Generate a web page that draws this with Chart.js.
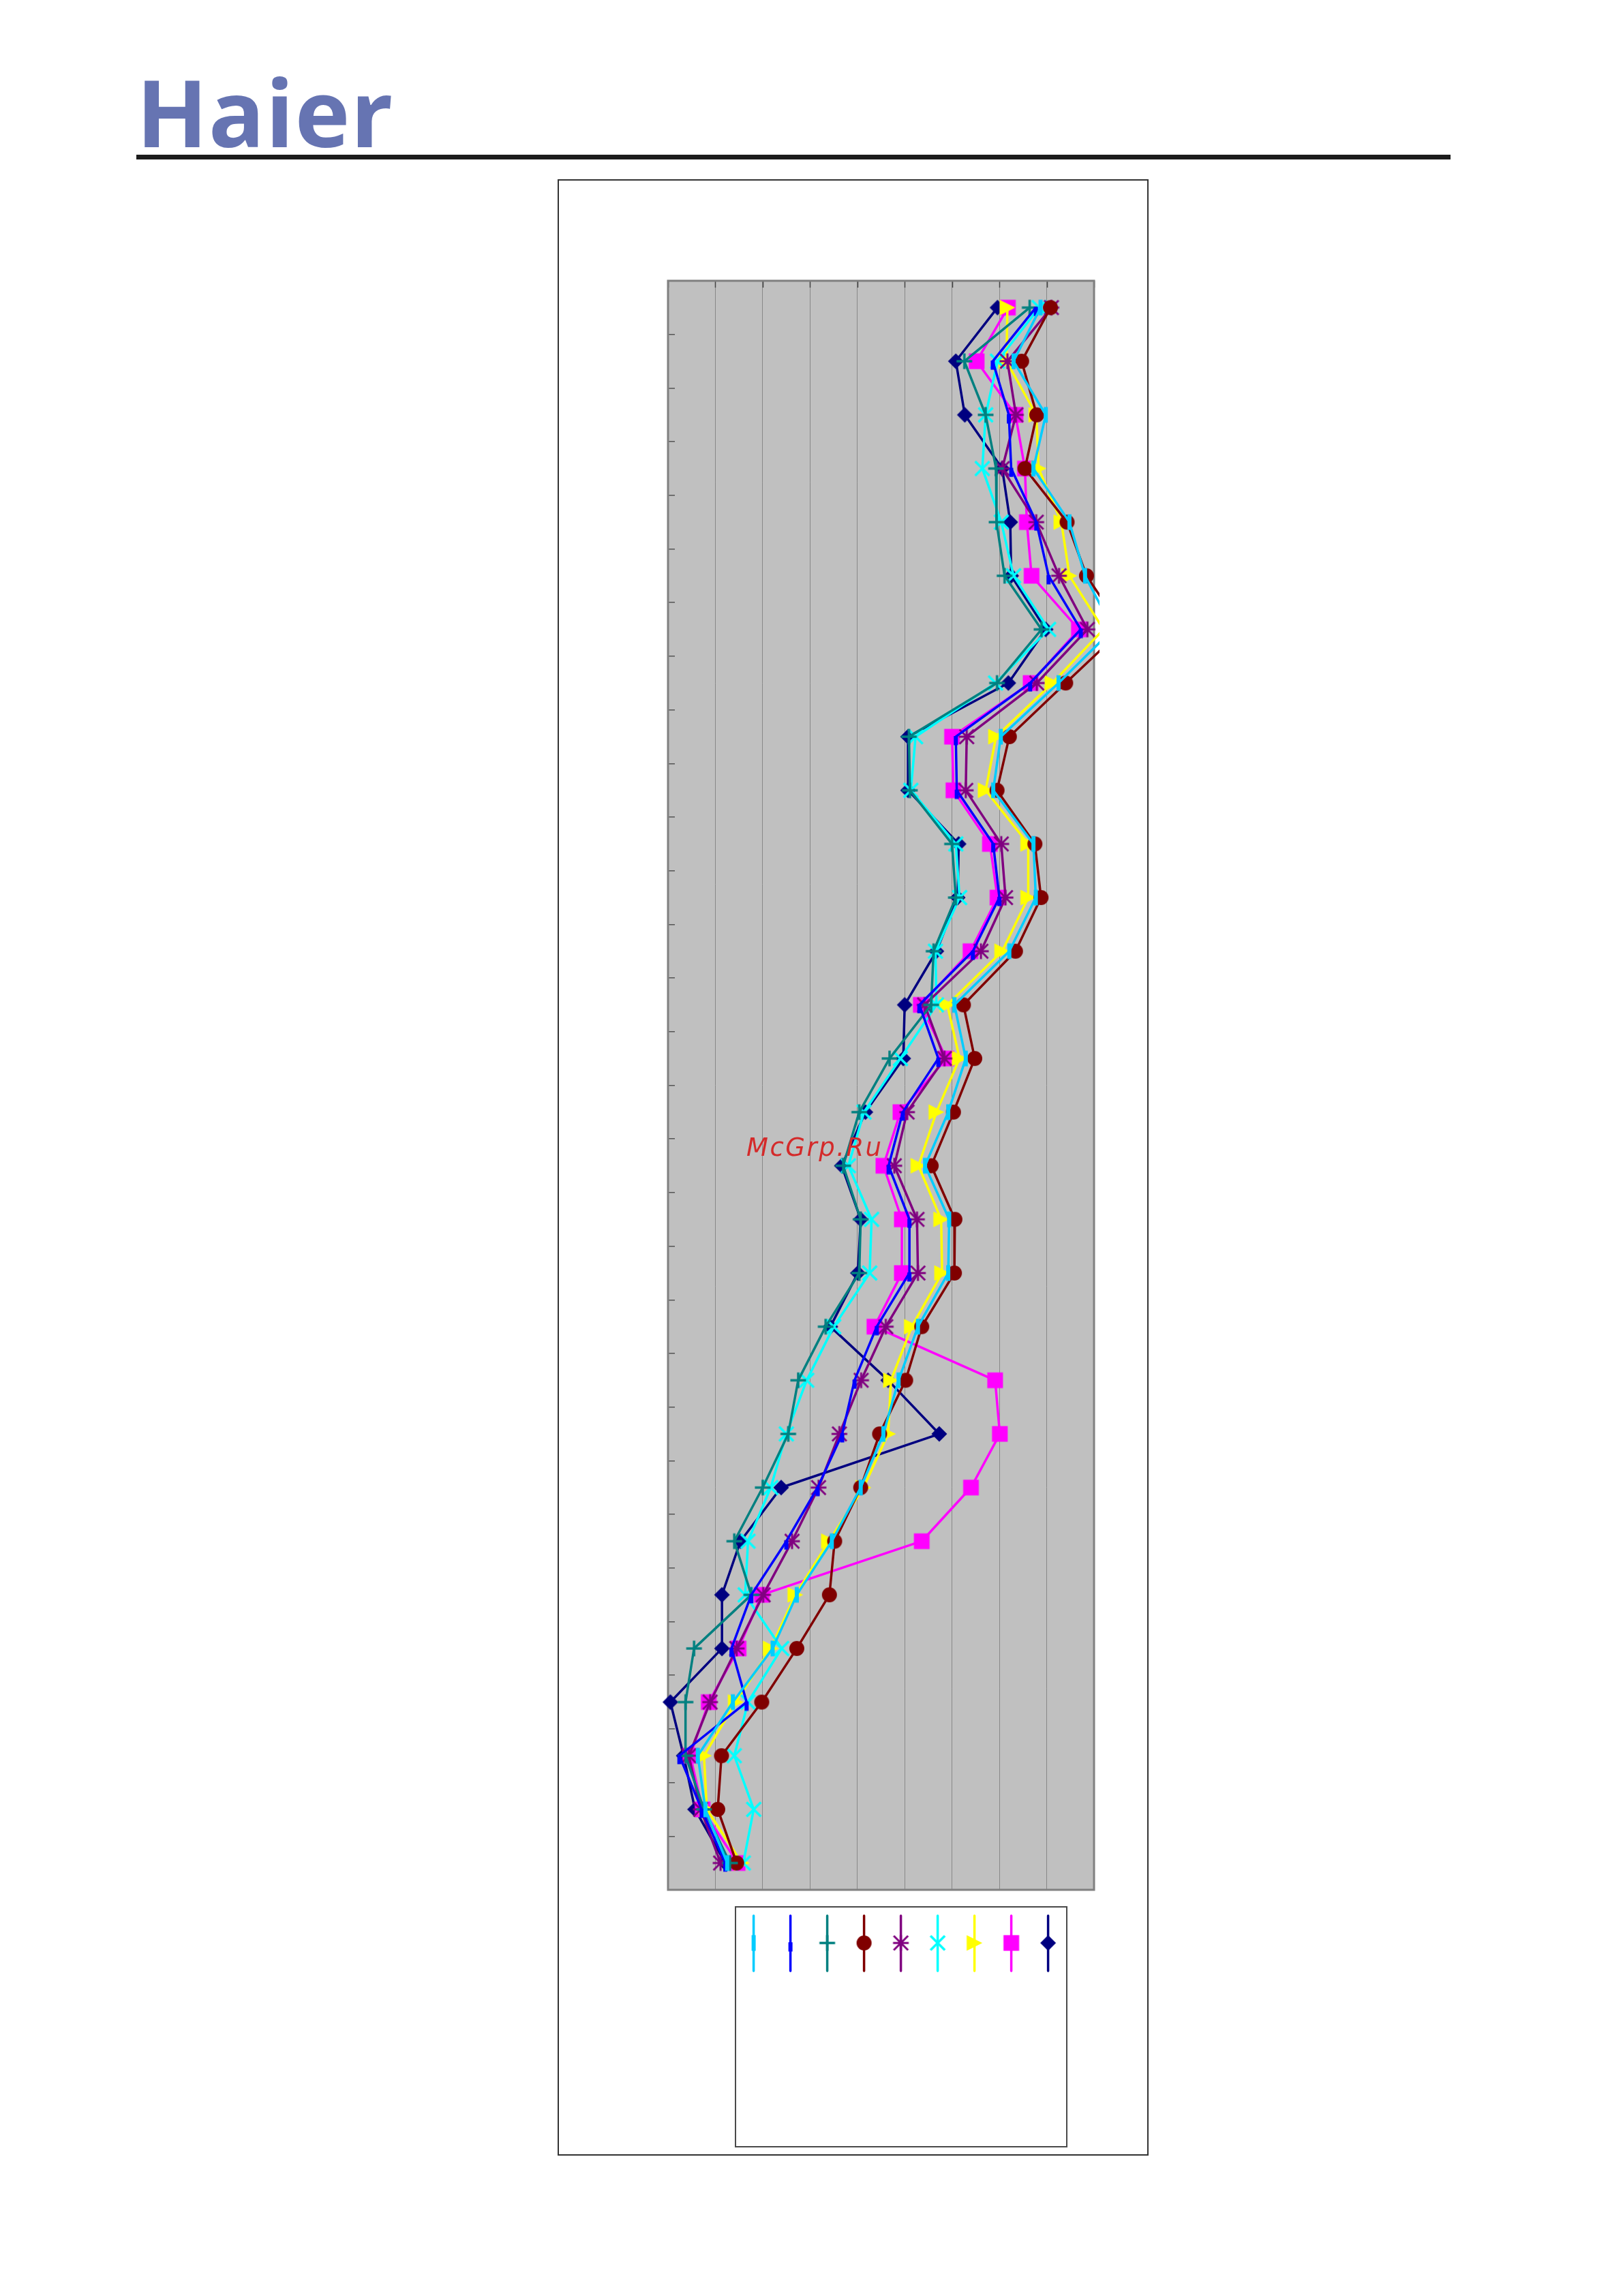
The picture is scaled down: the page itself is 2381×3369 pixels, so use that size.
<!DOCTYPE html>
<html>
<head>
<meta charset="utf-8">
<title>Haier chart</title>
<script src="https://cdn.jsdelivr.net/npm/chart.js@4.4.1/dist/chart.umd.min.js"></script>
<style>
  html, body { margin: 0; padding: 0; background: #fff; }
  body { width: 2381px; height: 3369px; position: relative; overflow: hidden; }
  .logo { position: absolute; left: 200px; top: 95px; font-family: "Open Sans", sans-serif; font-weight: 700;
          font-size: 137px; line-height: 137px; color: #6674b2; white-space: nowrap; letter-spacing: 1px; }
  .rule { position: absolute; left: 200px; top: 227px; width: 1928px; height: 7px; background: #1c1c1c; }
  .frame { position: absolute; left: 818px; top: 263px; width: 867px; height: 2900px;
           border: 2px solid #333; box-sizing: border-box; }
  #chart { position: absolute; left: 818px; top: 263px; width: 867px; height: 2900px; }
  .mark { position: absolute; left: 1095px; top: 1666px; font-family: "DejaVu Sans", sans-serif; font-style: italic;
          font-size: 37px; line-height: 36px; letter-spacing: 2.5px; color: #d42a2a; white-space: nowrap; }
</style>
</head>
<body>
<div class="logo">Haier</div>
<div class="rule"></div>
<div class="frame"></div>
<canvas id="chart" width="867" height="2900"></canvas>
<div class="mark">McGrp.Ru</div>

<script>
// Rows (top to bottom) - no labels are printed on the chart
const rowLabels = ['1', '2', '3', '4', '5', '6', '7', '8', '9', '10',
                   '11', '12', '13', '14', '15', '16', '17', '18', '19', '20',
                   '21', '22', '23', '24', '25', '26', '27', '28', '29', '30'];

// Series values (x position in grid units, 0..9)
const navyDiamond = [6.96, 6.08, 6.27, 7.06, 7.23, 7.25, 7.98, 7.19, 5.07, 5.07,
                     6.14, 6.12, 5.67, 5.00, 4.97, 4.17, 3.67, 4.07, 4.01, 3.43,
                     4.65, 5.73, 2.39, 1.53, 1.14, 1.14, 0.05, 0.33, 0.57, 1.21];
const magentaSquare = [7.18, 6.52, 7.34, 7.54, 7.58, 7.68, 8.68, 7.66, 6.00, 6.03,
                       6.80, 6.96, 6.39, 5.34, 5.88, 4.91, 4.55, 4.94, 4.94, 4.36,
                       6.91, 7.01, 6.40, 5.36, 1.98, 1.49, 0.86, 0.47, 0.73, 1.47];
const yellowTriangle = [7.17, 7.15, 7.78, 7.83, 8.31, 8.48, 9.20, 8.12, 6.93, 6.71,
                        7.61, 7.61, 7.06, 5.90, 6.16, 5.67, 5.29, 5.77, 5.79, 5.15,
                        4.71, 4.65, 4.13, 3.40, 2.69, 2.17, 1.43, 0.76, 0.82, 1.56];
const cyanCross = [7.84, 6.96, 6.71, 6.64, 7.04, 7.30, 8.04, 6.92, 5.23, 5.13,
                   6.08, 6.16, 5.65, 5.67, 4.91, 4.14, 3.81, 4.30, 4.26, 3.50,
                   2.93, 2.50, 2.17, 1.69, 1.63, 2.40, 1.69, 1.40, 1.81, 1.59];
const purpleStar = [8.10, 7.17, 7.35, 7.06, 7.78, 8.26, 8.86, 7.79, 6.31, 6.29,
                    7.04, 7.13, 6.61, 5.42, 5.84, 5.05, 4.78, 5.26, 5.28, 4.60,
                    4.08, 3.62, 3.18, 2.62, 2.01, 1.45, 0.89, 0.44, 0.69, 1.11];
const maroonCircle = [8.08, 7.47, 7.79, 7.54, 8.43, 8.84, 9.60, 8.40, 7.21, 6.95,
                      7.75, 7.88, 7.34, 6.24, 6.48, 6.03, 5.56, 6.06, 6.05, 5.36,
                      5.02, 4.47, 4.07, 3.52, 3.41, 2.72, 1.98, 1.13, 1.05, 1.45];
const tealPlus = [7.64, 6.26, 6.71, 6.93, 6.94, 7.11, 7.89, 6.95, 5.09, 5.11,
                  6.00, 6.08, 5.61, 5.56, 4.68, 4.04, 3.70, 4.07, 4.04, 3.33,
                  2.75, 2.54, 2.00, 1.40, 1.76, 0.55, 0.37, 0.37, 0.76, 1.31];
const blueDash = [7.77, 6.86, 7.20, 7.25, 7.78, 8.04, 8.72, 7.65, 6.08, 6.10,
                  6.87, 7.00, 6.44, 5.31, 5.71, 4.96, 4.66, 5.10, 5.10, 4.41,
                  3.94, 3.68, 3.16, 2.50, 1.76, 1.34, 1.66, 0.24, 0.71, 1.21];
const skyLongDash = [7.87, 7.30, 7.98, 7.72, 8.48, 8.81, 9.40, 8.25, 7.03, 6.87,
                     7.72, 7.77, 7.21, 6.05, 6.29, 5.92, 5.43, 5.94, 5.92, 5.28,
                     4.87, 4.55, 4.07, 3.46, 2.72, 2.21, 1.37, 0.63, 0.79, 1.25];

const seriesNames = ['Series 1', 'Series 2', 'Series 3', 'Series 4', 'Series 5',
                     'Series 6', 'Series 7', 'Series 8', 'Series 9'];
const seriesData = [navyDiamond, magentaSquare, yellowTriangle, cyanCross, purpleStar,
                    maroonCircle, tealPlus, blueDash, skyLongDash];
const seriesColors = ['#000080', '#ff00ff', '#ffff00', '#00ffff', '#800080',
                      '#800000', '#008080', '#0000ff', '#00ccff'];
const seriesMarkers = ['diamond', 'square', 'triangle', 'cross', 'star',
                       'circle', 'plus', 'dash', 'longDash'];

// Excel style markers (chart is rotated, so dashes stand upright and triangles point right)
const makeMarker = (kind, color) => {
    const c = document.createElement('canvas');
    c.width = 26; c.height = 26;
    const g = c.getContext('2d');
    const m = 13, h = 11.5;
    g.fillStyle = color;
    g.strokeStyle = color;
    g.lineWidth = 3.5;
    g.beginPath();
    switch (kind) {
        case 'diamond':
            g.moveTo(m, m - h); g.lineTo(m + h, m); g.lineTo(m, m + h); g.lineTo(m - h, m);
            g.closePath(); g.fill();
            break;
        case 'square':
            g.fillRect(m - h, m - h, 2 * h, 2 * h);
            break;
        case 'triangle':
            g.moveTo(m - h, m - h); g.lineTo(m + h, m); g.lineTo(m - h, m + h);
            g.closePath(); g.fill();
            break;
        case 'circle':
            g.arc(m, m, 11, 0, Math.PI * 2); g.fill();
            break;
        case 'cross':
            g.moveTo(m - h + 1, m - h + 1); g.lineTo(m + h - 1, m + h - 1);
            g.moveTo(m + h - 1, m - h + 1); g.lineTo(m - h + 1, m + h - 1);
            g.stroke();
            break;
        case 'star':
            g.lineWidth = 3;
            g.moveTo(m - h + 1, m - h + 1); g.lineTo(m + h - 1, m + h - 1);
            g.moveTo(m + h - 1, m - h + 1); g.lineTo(m - h + 1, m + h - 1);
            g.moveTo(m - h, m); g.lineTo(m + h, m);
            g.moveTo(m, m - h); g.lineTo(m, m + h);
            g.stroke();
            break;
        case 'plus':
            g.moveTo(m - h, m); g.lineTo(m + h, m);
            g.moveTo(m, m - h); g.lineTo(m, m + h);
            g.stroke();
            break;
        case 'dash':
            g.fillRect(m - 3, m - 1, 6, 13.5);
            break;
        case 'longDash':
            g.fillRect(m - 3, m - h, 6, 2 * h);
            break;
    }
    return c;
};

const datasets = seriesData.map((values, i) => ({
    label: seriesNames[i],
    data: values,
    borderColor: seriesColors[i],
    backgroundColor: seriesColors[i],
    borderWidth: 3.5,
    borderJoinStyle: 'round',
    tension: 0,
    pointStyle: makeMarker(seriesMarkers[i], seriesColors[i]),
    pointRadius: 12,
    pointBorderWidth: 0,
    pointHoverRadius: 12,
    clip: { left: 14, top: 14, right: 8, bottom: 14 },
    order: seriesData.length - 1 - i
}));

// Grey plot area
const plotBackground = {
    id: 'plotBackground',
    beforeDraw(chart) {
        const { ctx, chartArea: a } = chart;
        ctx.save();
        ctx.fillStyle = '#c0c0c0';
        ctx.fillRect(a.left, a.top, a.width, a.height);
        ctx.restore();
    },
    beforeDatasetsDraw(chart) {
        const { ctx, chartArea: a } = chart;
        const xs = chart.scales.x;
        ctx.save();
        // little tick marks along the top edge
        ctx.strokeStyle = '#444';
        ctx.lineWidth = 1.5;
        xs.ticks.forEach(t => {
            const px = Math.round(xs.getPixelForValue(t.value)) + 0.5;
            ctx.beginPath();
            ctx.moveTo(px, a.top);
            ctx.lineTo(px, a.top + 10);
            ctx.stroke();
        });
        ctx.strokeStyle = '#808080';
        ctx.lineWidth = 3;
        ctx.strokeRect(a.left, a.top, a.width, a.height);
        ctx.restore();
    }
};

// Legend: entries stand upright, drawn right to left in series order
const uprightLegend = {
    id: 'uprightLegend',
    afterDraw(chart) {
        const { ctx, chartArea: a } = chart;
        const bx = a.left + 99, by = a.bottom + 25, bw = 486, bh = 352;
        ctx.save();
        ctx.fillStyle = '#fff';
        ctx.fillRect(bx, by, bw, bh);
        ctx.strokeStyle = '#4a4a4a';
        ctx.lineWidth = 2;
        ctx.strokeRect(bx, by, bw, bh);
        const list = chart.data.datasets.slice().reverse();
        list.forEach((ds, k) => {
            const cx = bx + 26.6 + k * 54;
            const cy = by + 53;
            ctx.strokeStyle = ds.borderColor;
            ctx.lineWidth = 3.5;
            ctx.lineCap = 'round';
            ctx.beginPath();
            ctx.moveTo(cx, by + 13);
            ctx.lineTo(cx, by + 94);
            ctx.stroke();
            const img = ds.pointStyle;
            ctx.drawImage(img, cx - img.width / 2, cy - img.height / 2);
        });
        ctx.restore();
    }
};

new Chart(document.getElementById('chart'), {
    type: 'line',
    data: { labels: rowLabels, datasets: datasets },
    options: {
        indexAxis: 'y',
        responsive: false,
        animation: false,
        events: [],
        devicePixelRatio: 1,
        layout: { padding: { left: 162, top: 149, right: 80, bottom: 390 } },
        scales: {
            x: {
                type: 'linear',
                position: 'bottom',
                min: 0,
                max: 9,
                border: { display: false },
                ticks: { display: false, stepSize: 1 },
                grid: { color: '#888888', lineWidth: 1, drawTicks: false }
            },
            y: {
                type: 'category',
                offset: true,
                position: { x: 0.144 },
                border: { display: false },
                ticks: { display: false },
                grid: { offset: true, drawOnChartArea: false, drawTicks: true, tickLength: 10,
                        color: '#555', lineWidth: 1.5 }
            }
        },
        plugins: {
            legend: { display: false },
            tooltip: { enabled: false }
        }
    },
    plugins: [plotBackground, uprightLegend]
});
</script>
</body>
</html>
